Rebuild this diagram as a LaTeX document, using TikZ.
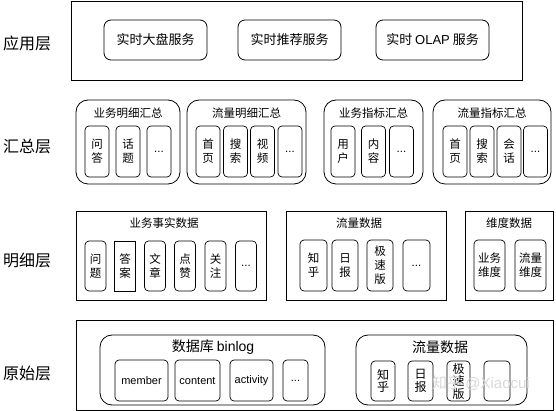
\documentclass[tikz,border=0pt]{standalone}
\usepackage{fontspec}
\setmainfont{Noto Sans CJK SC}
\newfontfamily\lat{Liberation Sans}
\begin{document}
\begin{tikzpicture}[x=1pt,y=-1pt,
  every node/.style={inner sep=0pt, outer sep=0pt},
  sz/.style 2 args={minimum width=#1pt, minimum height=#2pt},
  frame/.style={draw, line width=0.8pt},
  grp/.style={draw, line width=0.8pt, rounded corners=12pt},
  svc/.style={draw, line width=0.8pt, rounded corners=7pt, font=\fontsize{13}{15}\selectfont},
  cell/.style={draw, line width=0.7pt, rounded corners=4pt, align=center, font=\fontsize{11.5}{14}\selectfont},
  sqcell/.style={cell, sharp corners},
  ttl/.style={font=\fontsize{11.5}{14}\selectfont},
  bigttl/.style={font=\fontsize{14}{16}\selectfont},
  lyr/.style={font=\fontsize{16}{18}\selectfont},
  wm/.style={text=gray!30, font=\fontsize{15}{17}\selectfont}
]
\useasboundingbox (0,0) rectangle (556,411);
\fill[white] (0,0) rectangle (556,411);

% ---------- layer labels
\node[lyr] (l1) at (27,43) {应用层};
\node[lyr] (l2) at (27,147) {汇总层};
\node[lyr] (l3) at (27,260) {明细层};
\node[lyr] (l4) at (27,373) {原始层};

% ---------- application layer
\node[frame, sz={451}{79}] (app) at (296.5,40.5) {};
\node[svc, sz={103}{40}] (s1) at (155.5,40) {实时大盘服务};
\node[svc, sz={103}{40}] (s2) at (289.5,40) {实时推荐服务};
\node[svc, sz={113}{40}] (s3) at (432.5,40) {实时 {\lat OLAP} 服务};

% ---------- summary layer
\node[grp, sz={104}{84}] (g1) at (128,142) {};
\node[grp, sz={119}{84}] (g2) at (246.5,142) {};
\node[grp, sz={99}{84}] (g3) at (373.5,142) {};
\node[grp, sz={118}{84}] (g4) at (492,142) {};
\node[ttl] (g1t) at (128,113) {业务明细汇总};
\node[ttl] (g2t) at (246.5,113) {流量明细汇总};
\node[ttl] (g3t) at (373.5,113) {业务指标汇总};
\node[ttl] (g4t) at (492,113) {流量指标汇总};

\node[cell, sz={24}{51}] (g1a) at (97,151.5) {问\\答};
\node[cell, sz={24}{51}] (g1b) at (128,151.5) {话\\题};
\node[cell, sz={24}{51}] (g1c) at (159,151.5) {{\lat ...}};

\node[cell, sz={24}{51}] (g2a) at (208,151.5) {首\\页};
\node[cell, sz={24}{51}] (g2b) at (235.5,151.5) {搜\\索};
\node[cell, sz={24}{51}] (g2c) at (262.5,151.5) {视\\频};
\node[cell, sz={24}{51}] (g2d) at (290,151.5) {{\lat ...}};

\node[cell, sz={24}{51}] (g3a) at (343,151.5) {用\\户};
\node[cell, sz={24}{51}] (g3b) at (373.5,151.5) {内\\容};
\node[cell, sz={24}{51}] (g3c) at (401.5,151.5) {{\lat ...}};

\node[cell, sz={24}{51}] (g4a) at (455,151.5) {首\\页};
\node[cell, sz={24}{51}] (g4b) at (482,151.5) {搜\\索};
\node[cell, sz={24}{51}] (g4c) at (509,151.5) {会\\话};
\node[cell, sz={24}{51}] (g4d) at (535.5,151.5) {{\lat ...}};

% ---------- detail layer
\node[frame, sz={190}{89}] (d1) at (171,255.5) {};
\node[frame, sz={160}{89}] (d2) at (366,255.5) {};
\node[frame, sz={88}{89}] (d3) at (509,255.5) {};
\node[ttl] (d1t) at (164,223) {业务事实数据};
\node[ttl] (d2t) at (359,223) {流量数据};
\node[ttl] (d3t) at (509,223) {维度数据};

\node[cell, sz={21}{50}] (d1a) at (95.5,266) {问\\题};
\node[sqcell, sz={21}{50}] (d1b) at (125,266) {答\\案};
\node[cell, sz={21}{50}] (d1c) at (155,266) {文\\章};
\node[cell, sz={21}{50}] (d1d) at (185,266) {点\\赞};
\node[cell, sz={21}{50}] (d1e) at (215.5,266) {关\\注};
\node[cell, sz={21}{50}] (d1f) at (246,266) {{\lat ...}};

\node[cell, sz={27}{51}] (d2a) at (313.5,265.5) {知\\乎};
\node[cell, sz={26}{51}] (d2b) at (345,265.5) {日\\报};
\node[cell, sz={26}{51}] (d2c) at (380,265.5) {极\\速\\版};
\node[cell, sz={27}{51}] (d2d) at (416.5,265.5) {{\lat ...}};

\node[cell, sz={31}{51}] (d3a) at (489.5,265.5) {业务\\维度};
\node[cell, sz={31}{51}] (d3b) at (530.5,265.5) {流量\\维度};

% ---------- raw layer
\node[frame, sz={477}{90}] (raw) at (314.5,365) {};
\node[grp, sz={225}{70}] (r1) at (212.5,370) {};
\node[grp, sz={171}{70}] (r2) at (441.5,370) {};
\node[bigttl] (r1t) at (213,347) {数据库 {\lat binlog}};
\node[bigttl] (r2t) at (440,347) {流量数据};

\node[cell, sz={53}{41}, font=\lat\fontsize{11}{13}\selectfont] (r1a) at (141.5,380.5) {member};
\node[cell, sz={45}{41}, font=\lat\fontsize{11}{13}\selectfont] (r1b) at (197.5,380.5) {content};
\node[cell, sz={43}{41}, font=\lat\fontsize{11}{13}\selectfont] (r1c) at (251.5,380.5) {activity};
\node[cell, sz={25}{41}, font=\lat\fontsize{11}{13}\selectfont] (r1d) at (295.5,380.5) {...};

\node[cell, sz={24}{40}, font=\fontsize{12}{12.5}\selectfont] (r2a) at (383,381) {知\\乎};
\node[cell, sz={25}{40}, font=\fontsize{12}{12.5}\selectfont] (r2b) at (420.5,381) {日\\报};
\node[cell, sz={23}{40}, font=\fontsize{12}{12.5}\selectfont] (r2c) at (458.5,381) {极\\速\\版};
\node[cell, sz={26}{40}] (r2d) at (497,381) {};

% watermark
\node[wm, anchor=west] (wmk) at (432,383) {知乎 {\lat @Xiaocui}};
\end{tikzpicture}
\end{document}
